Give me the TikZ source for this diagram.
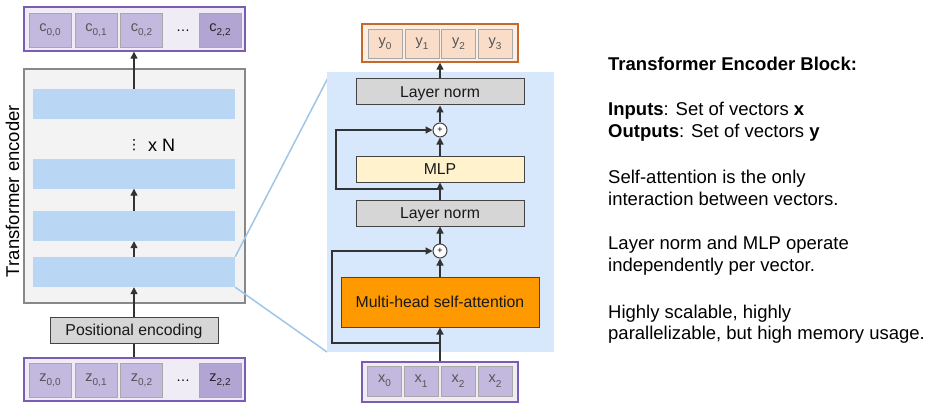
\documentclass[tikz,border=0pt]{standalone}
\usepackage{fontspec}
\setmainfont{Liberation Sans}
\newfontfamily\dejavu{DejaVu Sans}
\usetikzlibrary{arrows.meta}
\definecolor{contfill}{HTML}{EFECF6}
\definecolor{purpleborder}{HTML}{7A5CB5}
\definecolor{cellfill}{HTML}{C3B8DE}
\definecolor{cellfilld}{HTML}{B2A5D3}
\definecolor{cellborder}{HTML}{A8A8A8}
\definecolor{celltext}{HTML}{555555}
\definecolor{encfill}{HTML}{F3F3F3}
\definecolor{encborder}{HTML}{888888}
\definecolor{barblue}{HTML}{BAD6F5}
\definecolor{blockbg}{HTML}{D8E8FC}
\definecolor{zoomline}{HTML}{9FC5E8}
\definecolor{lngray}{HTML}{D6D6D6}
\definecolor{darkborder}{HTML}{444444}
\definecolor{mlpfill}{HTML}{FFF2CC}
\definecolor{attnfill}{HTML}{FF9900}
\definecolor{yborder}{HTML}{C5692A}
\definecolor{ycont}{HTML}{FCEEE3}
\definecolor{ycell}{HTML}{F9DDC9}
\definecolor{arrowc}{HTML}{333333}
\newcommand\mysub[1]{\raisebox{-0.3em}{\fontsize{10}{10}\selectfont #1}}
\begin{document}
\begin{tikzpicture}[x=1pt,y=-1pt,
  cont/.style={draw=purpleborder, line width=1.4pt, fill=contfill, inner sep=0},
  tok/.style={draw=cellborder, line width=0.8pt, fill=cellfill, minimum width=42pt, minimum height=34pt, inner sep=0, font=\fontsize{14.5}{14.5}\selectfont, text=celltext},
  tokd/.style={tok, fill=cellfilld, text=black!85},
  ytok/.style={draw=cellborder, line width=0.8pt, fill=ycell, minimum width=34pt, minimum height=29pt, inner sep=0, font=\fontsize{14.5}{14.5}\selectfont, text=celltext},
  xtok/.style={ytok, fill=cellfill, minimum height=30pt},
  bar/.style={fill=barblue, minimum width=202pt, minimum height=30pt, inner sep=0},
  layer/.style={draw=darkborder, line width=1pt, fill=lngray, minimum width=168pt, minimum height=26pt, inner sep=0, text height=11.3pt, text depth=1pt, font=\fontsize{15.8}{16}\selectfont, text=black!90},
  plusc/.style={circle, draw=darkborder, line width=1pt, fill=white, minimum size=14pt, inner sep=0, font=\fontsize{9}{9}\selectfont},
  arr/.style={-{Triangle[length=7pt,width=7pt]}, line width=1.3pt, draw=arrowc},
  ln/.style={line width=1.3pt, draw=arrowc},
  rtext/.style={anchor=base west, inner sep=0, font=\fontsize{18.5}{22}\selectfont}
]
\useasboundingbox (0,0) rectangle (931,409);

% ---------- left: encoder ----------
\node[cont, minimum width=221pt, minimum height=44pt] (cbox) at (134.5,29) {};
\node[tok] (c00) at (50,30) {c\mysub{0,0}};
\node[tok] (c01) at (96,30) {c\mysub{0,1}};
\node[tok] (c02) at (141.5,30) {c\mysub{0,2}};
\node[font=\fontsize{14}{14}\selectfont, inner sep=0] (cdots) at (183,31) {\dots};
\node[tokd] (c22) at (220,30) {c\mysub{2,2}};

\node[draw=encborder, line width=1.5pt, fill=encfill, minimum width=221pt, minimum height=234pt, inner sep=0] (enc) at (134.5,186) {};
\node[rotate=90, inner sep=0, font=\fontsize{18.5}{18.5}\selectfont] (enclabel) at (12.5,191) {Transformer encoder};
\node[bar] (bar1) at (134,104.5) {};
\node[bar] (bar2) at (134,173.5) {};
\node[bar] (bar3) at (134,226) {};
\node[bar] (bar4) at (134,272) {};
\node[inner sep=0, font=\dejavu\fontsize{14}{14}\selectfont] (vd) at (134,145) {⋮};
\node[inner sep=0, anchor=west, font=\fontsize{18}{18}\selectfont] (xN) at (148,145) {x N};

\node[layer] (pos) at (134,330) {Positional encoding};

\node[cont, minimum width=221pt, minimum height=43pt] (zbox) at (134.5,379.5) {};
\node[tok] (z00) at (50,380) {z\mysub{0,0}};
\node[tok] (z01) at (96,380) {z\mysub{0,1}};
\node[tok] (z02) at (141.5,380) {z\mysub{0,2}};
\node[font=\fontsize{14}{14}\selectfont, inner sep=0] (zdots) at (183,381) {\dots};
\node[tokd] (z22) at (220,380) {z\mysub{2,2}};

\draw[arr] (bar1.north) -- (bar1.north |- cbox.south);
\draw[arr] (bar3.north) -- (bar2.south);
\draw[arr] (bar4.north) -- (bar3.south);
\draw[arr] (pos.north) -- (bar4.south);
\draw[ln] (zbox.north -| pos.south) -- (pos.south);

% ---------- zoom lines ----------
\coordinate (zt) at (331,72);
\coordinate (zb) at (327,352);
\draw[zoomline, line width=1.5pt] (bar4.north east) -- (zt);
\draw[zoomline, line width=1.5pt] (bar4.south east) -- (zb);

% ---------- middle: encoder block ----------
\node[fill=blockbg, minimum width=227pt, minimum height=280pt, inner sep=0] (block) at (440.5,212) {};

\node[draw=yborder, line width=1.4pt, fill=ycont, minimum width=156pt, minimum height=38pt, inner sep=0] (ybox) at (440,43) {};
\node[ytok] (y0) at (385,43.5) {y\mysub{0}};
\node[ytok] (y1) at (422,43.5) {y\mysub{1}};
\node[ytok] (y2) at (458.5,43.5) {y\mysub{2}};
\node[ytok] (y3) at (495,43.5) {y\mysub{3}};

\node[layer] (ln1) at (440,92) {Layer norm};
\node[plusc] (plus1) at (440,130) {+};
\node[layer, fill=mlpfill] (mlp) at (440,169) {MLP};
\node[layer] (ln2) at (440,213) {Layer norm};
\node[plusc] (plus2) at (440,251) {+};
\node[layer, fill=attnfill, minimum width=198pt, minimum height=50pt] (attn) at (440,302) {Multi-head self-attention};

\node[cont, minimum width=156pt, minimum height=40pt] (xbox) at (440,382) {};
\node[xtok] (x0) at (384.5,381) {x\mysub{0}};
\node[xtok] (x1) at (421,381) {x\mysub{1}};
\node[xtok] (x2) at (458,381) {x\mysub{2}};
\node[xtok] (x3) at (495,381) {x\mysub{2}};

\coordinate (r1) at (440,189);
\coordinate (r2) at (440,343);
\draw[arr] (xbox.north) -- (attn.south);
\draw[arr] (attn.north) -- (plus2.south);
\draw[arr] (plus2.north) -- (ln2.south);
\draw[arr] (ln2.north) -- (mlp.south);
\draw[arr] (mlp.north) -- (plus1.south);
\draw[arr] (plus1.north) -- (ln1.south);
\draw[arr] (ln1.north) -- (ybox.south);
\draw[arr] (r1) -- (336,189) -- (336,130) -- (plus1.west);
\draw[arr] (r2) -- (332,343) -- (332,251) -- (plus2.west);

% ---------- right text ----------
\node[rtext] (t1) at (608,71) {\textbf{Transformer Encoder Block:}};
\node[rtext] (t2) at (608,116) {\textbf{Inputs}: Set of vectors \textbf{x}};
\node[rtext] (t3) at (608,138) {\textbf{Outputs}: Set of vectors \textbf{y}};
\node[rtext] (t4) at (608,183) {Self-attention is the only};
\node[rtext] (t5) at (608,205) {interaction between vectors.};
\node[rtext] (t6) at (608,249) {Layer norm and MLP operate};
\node[rtext] (t7) at (608,271) {independently per vector.};
\node[rtext] (t8) at (608,318) {Highly scalable, highly};
\node[rtext] (t9) at (608,339) {parallelizable, but high memory usage.};
\end{tikzpicture}
\end{document}
